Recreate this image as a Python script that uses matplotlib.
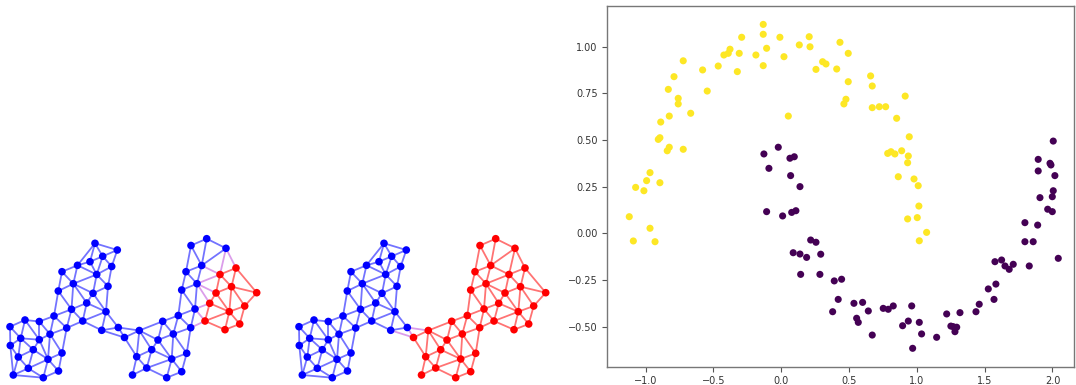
import numpy as np
import matplotlib
matplotlib.use("Agg")
import matplotlib.pyplot as plt
import matplotlib.tri as mtri
from matplotlib.collections import LineCollection

# ---------------- graph data (layout coordinates) ----------------
node_x = [10, 25, 39.3, 54, 10.3, 20.7, 39.3, 50, 18.3, 33.3, 48, 62, 13.3, 28.3, 43.3, 58.5,
          95, 117.3, 102.7, 90, 111.7, 77.5, 62, 96.7, 73.3, 108, 58.3, 93, 86.7, 71.5, 106, 82.7, 66.7, 101.7,
          118.3, 124.5, 139.3, 162.7, 178.3, 195, 190.7, 173.3, 158, 151.7, 186.7, 136.7, 171.7, 146.7, 181.7, 132.5, 166.7,
          206.7, 191, 226, 201.7, 186, 197, 181.7,
          236, 220, 231.5, 256.7, 216, 209.7, 244.7, 229.3, 205, 239.7, 225]
node_y = [58.3, 65, 63.5, 69, 39.5, 46.7, 45.3, 50.8, 28, 35.3, 25.7, 32, 10, 16.7, 7.3, 14,
          141.7, 135, 128.7, 123.3, 118.5, 119.7, 113.3, 110.5, 101.3, 98.7, 94, 91.7, 82, 75.7, 73.3, 64, 57, 54.7,
          57.5, 47.5, 54.5, 63.7, 69.5, 76, 57.3, 51, 45, 35.3, 31.7, 28.3, 26, 17, 13.3, 10, 7.3,
          146.3, 139.5, 136.7, 119.5, 113.3, 101.3, 95,
          117, 110.5, 98.3, 92.3, 92, 81.7, 79, 73.3, 64, 61, 55.3]
# cluster assignment of each node in the two cuts
cut_a = [0] * 58 + [1] * 11
cut_b = [0] * 35 + [1] * 34
max_edge_len = 33

# ---------------- moons scatter data ----------------
yellow_x = [-0.133, -0.133, -0.292, -0.010, 0.206, -0.378, -0.391, -0.423, -0.310, -0.187, -0.108, 0.020,
            0.133, 0.212, -0.723, -0.580, -0.465, -0.324, -0.133, 0.256, 0.305, 0.330, 0.409, -0.791,
            -0.833, -0.546, -0.760, -0.760, -0.668, -0.826, -0.889, 0.052, -0.907, -0.895, -0.826, -0.841,
            -0.723, -0.968, -0.993, -0.895, -1.074, -1.013, -1.121, -0.968, -1.091, -0.931, 0.433, 0.494,
            0.494, 0.477, 0.462, 0.659, 0.671, 0.671, 0.723, 0.770, 0.914, 0.851, 0.944, 0.785, 0.809,
            0.838, 0.888, 0.937, 0.932, 0.863, 0.979, 1.010, 1.015, 0.932, 1.003, 1.072, 1.018]
yellow_y = [1.119, 1.066, 1.050, 1.050, 1.053, 0.986, 0.964, 0.955, 0.964, 0.955, 0.991, 0.946,
            1.009, 0.999, 0.924, 0.875, 0.896, 0.866, 0.898, 0.878, 0.919, 0.907, 0.880, 0.839,
            0.771, 0.762, 0.723, 0.693, 0.643, 0.628, 0.596, 0.628, 0.503, 0.512, 0.461, 0.442,
            0.450, 0.325, 0.282, 0.271, 0.246, 0.228, 0.089, 0.027, -0.041, -0.045, 1.023, 0.964,
            0.812, 0.718, 0.693, 0.843, 0.789, 0.673, 0.678, 0.678, 0.735, 0.616, 0.517, 0.428, 0.437,
            0.425, 0.442, 0.414, 0.378, 0.303, 0.291, 0.255, 0.146, 0.077, 0.084, 0.005, -0.040]
purple_x = [-0.128, -0.022, 0.064, 0.096, -0.091, 0.069, 0.138, -0.108, 0.010, 0.077, 0.108, 0.217,
            0.256, 0.088, 0.138, 0.187, 0.291, 0.143, 0.285, 0.391, 0.445, 0.420, 0.379, 0.536,
            0.600, 0.642, 0.556, 0.568, 0.671, 0.752, 0.789, 0.826, 0.962, 0.895, 0.937, 1.018,
            1.035, 0.969, 1.146, 1.220, 1.268, 1.294, 1.281, 1.251, 1.318, 1.436, 1.460, 1.527,
            1.569, 1.583, 1.576, 1.625, 1.650, 1.681, 1.711, 1.829, 1.797, 1.858, 1.797, 1.891,
            1.908, 1.965, 1.999, 1.999, 2.006, 2.043, 2.006, 1.895, 1.982, 1.989, 1.895, 2.018]
purple_y = [0.425, 0.461, 0.402, 0.410, 0.348, 0.309, 0.250, 0.116, 0.093, 0.112, 0.121, -0.036,
            -0.048, -0.104, -0.111, -0.129, -0.112, -0.220, -0.220, -0.255, -0.246, -0.354, -0.420, -0.375,
            -0.370, -0.416, -0.455, -0.477, -0.545, -0.402, -0.407, -0.389, -0.389, -0.495, -0.470, -0.477,
            -0.539, -0.616, -0.557, -0.432, -0.500, -0.503, -0.527, -0.497, -0.425, -0.420, -0.380, -0.298,
            -0.354, -0.272, -0.152, -0.143, -0.175, -0.193, -0.166, -0.175, -0.045, -0.045, 0.057, 0.044,
            0.191, 0.129, 0.116, 0.196, 0.228, -0.134, 0.494, 0.396, 0.375, 0.366, 0.334, 0.309]
x_ticks = [-1.0, -0.5, 0.0, 0.5, 1.0, 1.5, 2.0]
y_ticks = [-0.50, -0.25, 0.00, 0.25, 0.50, 0.75, 1.00]
title_text = "Two moons with spectral clustering"

# ---------------- figure ----------------
W, H = 1076, 385
fig = plt.figure(figsize=(W / 100, H / 100), dpi=100)

nx_ = np.array(node_x, float)
ny_ = np.array(node_y, float)
tri = mtri.Triangulation(nx_, ny_)
edges = [(i, j) for i, j in tri.edges
         if np.hypot(nx_[i] - nx_[j], ny_[i] - ny_[j]) <= max_edge_len]

node_cols = {0: np.array([0.0, 0.0, 1.0]), 1: np.array([1.0, 0.0, 0.0])}


def draw_graph(ax, parts):
    segs, cols = [], []
    for i, j in edges:
        segs.append([(nx_[i], ny_[i]), (nx_[j], ny_[j])])
        if parts[i] == parts[j]:
            c = node_cols[parts[i]]
        else:
            c = np.array([0.75, 0.3, 0.85])
        cols.append((*c, 0.55))
    ax.add_collection(LineCollection(segs, colors=cols, linewidths=1.3, zorder=1))
    ax.scatter(nx_, ny_, s=30, c=[node_cols[p] for p in parts], zorder=2, linewidths=0)
    ax.set_xlim(0, 290)
    ax.set_ylim(0, 385)
    ax.axis("off")


ax1 = fig.add_axes([0, 0, 290 / W, 1])
draw_graph(ax1, cut_a)
ax2 = fig.add_axes([289 / W, 0, 290 / W, 1])
draw_graph(ax2, cut_b)

# scatter panel
left_px, right_px, top_px, bot_px = 607.3, 1074, 6, 366.7
ax3 = fig.add_axes([left_px / W, (H - bot_px) / H, (right_px - left_px) / W, (bot_px - top_px) / H])
xs = yellow_x + purple_x
ys = yellow_y + purple_y
labels = [0] * len(yellow_x) + [1] * len(purple_x)
ax3.scatter(xs, ys, c=labels, cmap="viridis_r", s=26, linewidths=0)
ax3.set_xlim(-1.283, 2.159)
ax3.set_ylim(-0.7145, 1.2175)
ax3.set_xticks(x_ticks)
ax3.set_yticks(y_ticks)
ax3.tick_params(labelsize=7, colors="#555555", length=3.5, width=0.8)
for t in ax3.get_xticklabels() + ax3.get_yticklabels():
    t.set_color("#333333")
for sp in ax3.spines.values():
    sp.set_color("#777777")
    sp.set_linewidth(1.0)
# the title sits mostly above the top edge of the picture, as in the reference
ax3.set_title(title_text, fontsize=12, pad=7.5)

fig.savefig("out.png", dpi=100)
